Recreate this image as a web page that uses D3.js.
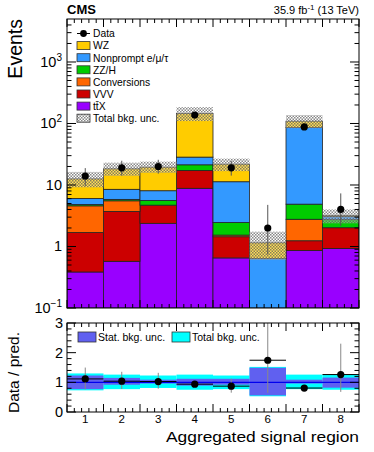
<!DOCTYPE html>
<html>
<head>
<meta charset="utf-8">
<script src="https://d3js.org/d3.v7.min.js"></script>
<style>
  body { margin: 0; background: #fff; }
  text { font-family: "Liberation Sans", Arial, sans-serif; }
</style>
</head>
<body>
<div id="chart"></div>
<script>
// bins and stacked backgrounds (bottom -> top)
const bins = ["1", "2", "3", "4", "5", "6", "7", "8"];
const ttX = [0.385, 0.574, 2.38, 8.83, 0.652, 0, 0.86, 0.93];
const vvv = [1.30, 3.14, 2.32, 8.37, 0.79, 0, 0.38, 1.09];
const conversions = [2.90, 1.82, 0, 0, 0.09, 0, 1.53, 0];
const zzh = [0.22, 0.30, 0.90, 4.1, 0.92, 0, 2.11, 0.75];
const nonprompt = [1.25, 2.67, 2.47, 7.1, 8.85, 0.636, 81.1, 0.30];
const wz = [6.5, 9.8, 11.4, 117.6, 10.5, 0.51, 23, 0.10];

const data = [14, 19, 20, 137, 19, 2, 88, 4];
const dataLo = [9.6, 14.2, 15.3, 126, 14.2, 0.74, 79, 2.15];
const dataHi = [18.8, 24.8, 25.7, 149, 24.5, 4.75, 98, 7.3];

// relative uncertainties
const statLo = [0.77, 0.92, 0.96, 0.89, 0.92, 0.56, 0.96, 0.82];
const statHi = [1.23, 1.15, 1.09, 1.12, 1.12, 1.49, 1.09, 1.16];
const totLo = [0.73, 0.77, 0.81, 0.75, 0.77, 0.53, 0.77, 0.75];
const totHi = [1.30, 1.26, 1.23, 1.26, 1.23, 1.52, 1.26, 1.26];

const mainTicks = [0.1, 1, 10, 100, 1000];
const ratioTicks = [0, 1, 2, 3];

const components = [
    { name: "tt\u0304X", values: ttX, color: "#9900ff" },
    { name: "VVV", values: vvv, color: "#cc0000" },
    { name: "Conversions", values: conversions, color: "#ff6600" },
    { name: "ZZ/H", values: zzh, color: "#00cc00" },
    { name: "Nonprompt e/\u03bc/\u03c4", values: nonprompt, color: "#3399ff" },
    { name: "WZ", values: wz, color: "#ffcc00" }
];

const W = 374, H = 452;
const left = 67, right = 359;
const mainTop = 19, mainBot = 308;
const ratTop = 323, ratBot = 412;

const svg = d3.select("#chart").append("svg")
    .attr("width", W).attr("height", H);

const defs = svg.append("defs");
const pat = defs.append("pattern").attr("id", "hatch")
    .attr("width", 3).attr("height", 3).attr("patternUnits", "userSpaceOnUse");
pat.append("rect").attr("width", 3).attr("height", 3).attr("fill", "#ffffff").attr("opacity", 0.35);
pat.append("rect").attr("x", 0).attr("y", 0).attr("width", 1.5).attr("height", 1.5).attr("fill", "#555").attr("opacity", 0.7);
pat.append("rect").attr("x", 1.5).attr("y", 1.5).attr("width", 1.5).attr("height", 1.5).attr("fill", "#555").attr("opacity", 0.7);

const clipMain = defs.append("clipPath").attr("id", "clipMain");
clipMain.append("rect").attr("x", left).attr("y", mainTop).attr("width", right - left).attr("height", mainBot - mainTop);
const clipRat = defs.append("clipPath").attr("id", "clipRat");
clipRat.append("rect").attr("x", left).attr("y", ratTop).attr("width", right - left).attr("height", ratBot - ratTop);

const x = d3.scaleLinear().domain([0, bins.length]).range([left, right]);
const y = d3.scaleLog().domain([0.1, 5000]).range([mainBot, mainTop]);
const yr = d3.scaleLinear().domain([0, 3]).range([ratBot, ratTop]);
const ySafe = v => y(Math.max(v, 0.1));

// cumulative stack
const totals = bins.map(() => 0);
const stacked = components.map(c => {
    const rows = c.values.map((v, i) => {
        const y0 = totals[i];
        totals[i] += v;
        return { i, y0, y1: totals[i], v };
    });
    return { c, rows };
});

const gMain = svg.append("g").attr("clip-path", "url(#clipMain)");
stacked.forEach(s => {
    gMain.selectAll(null).data(s.rows.filter(r => r.v > 0)).enter().append("rect")
        .attr("x", r => x(r.i))
        .attr("width", r => x(r.i + 1) - x(r.i))
        .attr("y", r => ySafe(r.y1))
        .attr("height", r => ySafe(r.y0) - ySafe(r.y1))
        .attr("fill", s.c.color)
        .attr("stroke", "#222").attr("stroke-width", 0.8);
});

// total bkg uncertainty band
gMain.selectAll(null).data(bins).enter().append("rect")
    .attr("x", (d, i) => x(i))
    .attr("width", (d, i) => x(i + 1) - x(i))
    .attr("y", (d, i) => y(totals[i] * totHi[i]))
    .attr("height", (d, i) => y(totals[i] * totLo[i]) - y(totals[i] * totHi[i]))
    .attr("fill", "url(#hatch)");

// data
gMain.selectAll(null).data(data).enter().append("line")
    .attr("x1", (d, i) => x(i + 0.5)).attr("x2", (d, i) => x(i + 0.5))
    .attr("y1", (d, i) => ySafe(dataLo[i])).attr("y2", (d, i) => ySafe(dataHi[i]))
    .attr("stroke", "#555").attr("stroke-width", 1);
gMain.selectAll(null).data(data).enter().append("circle")
    .attr("cx", (d, i) => x(i + 0.5)).attr("cy", d => y(d))
    .attr("r", 3.6).attr("fill", "#000");

// ratio panel
const gRat = svg.append("g").attr("clip-path", "url(#clipRat)");
gRat.selectAll(null).data(bins).enter().append("rect")
    .attr("x", (d, i) => x(i)).attr("width", (d, i) => x(i + 1) - x(i))
    .attr("y", (d, i) => yr(totHi[i])).attr("height", (d, i) => yr(totLo[i]) - yr(totHi[i]))
    .attr("fill", "#00ffff");
gRat.selectAll(null).data(bins).enter().append("rect")
    .attr("x", (d, i) => x(i)).attr("width", (d, i) => x(i + 1) - x(i))
    .attr("y", (d, i) => yr(statHi[i])).attr("height", (d, i) => yr(statLo[i]) - yr(statHi[i]))
    .attr("fill", "#6060f0");
gRat.append("line")
    .attr("x1", left).attr("x2", right).attr("y1", yr(1)).attr("y2", yr(1))
    .attr("stroke", "#0000ee").attr("stroke-width", 1.2);
gRat.selectAll(null).data(data).enter().append("line")
    .attr("x1", (d, i) => x(i + 0.5)).attr("x2", (d, i) => x(i + 0.5))
    .attr("y1", (d, i) => yr(dataLo[i] / totals[i])).attr("y2", (d, i) => yr(dataHi[i] / totals[i]))
    .attr("stroke", "#888").attr("stroke-width", 1);
gRat.selectAll(null).data(data).enter().append("line")
    .attr("x1", (d, i) => x(i)).attr("x2", (d, i) => x(i + 1))
    .attr("y1", (d, i) => yr(d / totals[i])).attr("y2", (d, i) => yr(d / totals[i]))
    .attr("stroke", "#000").attr("stroke-width", 1);
gRat.selectAll(null).data(data).enter().append("circle")
    .attr("cx", (d, i) => x(i + 0.5)).attr("cy", (d, i) => yr(d / totals[i]))
    .attr("r", 3.6).attr("fill", "#000");

// frames
[[mainTop, mainBot], [ratTop, ratBot]].forEach(([t, b]) => {
    svg.append("rect").attr("x", left).attr("y", t)
        .attr("width", right - left).attr("height", b - t)
        .attr("fill", "none").attr("stroke", "#000").attr("stroke-width", 1);
});

// axes: x ticks (major at bin edges, minor in between), inward
const xMajor = d3.range(0, bins.length + 1);
const xMinor = d3.range(0, bins.length * 5 + 1).map(v => v / 5).filter(v => v % 1 !== 0);
function xTicks(yPos, dir) {
    const g = svg.append("g").attr("stroke", "#000").attr("stroke-width", 1);
    xMajor.forEach(v => g.append("line").attr("x1", x(v)).attr("x2", x(v)).attr("y1", yPos).attr("y2", yPos + dir * 8));
    xMinor.forEach(v => g.append("line").attr("x1", x(v)).attr("x2", x(v)).attr("y1", yPos).attr("y2", yPos + dir * 4));
}
xTicks(mainBot, -1); xTicks(mainTop, 1);
xTicks(ratBot, -1); xTicks(ratTop, 1);

// main y ticks
const logMinor = [];
mainTicks.forEach(d => { for (let k = 2; k <= 9; k++) { const v = d * k; if (v < 5000) logMinor.push(v); } });
[[left, 1], [right, -1]].forEach(([xp, dir]) => {
    const g = svg.append("g").attr("stroke", "#000").attr("stroke-width", 1);
    mainTicks.forEach(v => g.append("line").attr("x1", xp).attr("x2", xp + dir * 9).attr("y1", y(v)).attr("y2", y(v)));
    logMinor.forEach(v => g.append("line").attr("x1", xp).attr("x2", xp + dir * 4.5).attr("y1", y(v)).attr("y2", y(v)));
});
const expLabel = { 0.1: "\u22121", 100: "2", 1000: "3" };
mainTicks.forEach(v => {
    const t = svg.append("text").attr("x", left - 5).attr("y", y(v) + 5)
        .attr("text-anchor", "end").attr("font-size", 14.5);
    if (expLabel[v] !== undefined) {
        t.append("tspan").text("10");
        t.append("tspan").attr("dy", -6).attr("font-size", 10).text(expLabel[v]);
    } else {
        t.text(v);
    }
});

// ratio y ticks
const ratMinor = d3.range(0, 15).map(v => v / 5).filter(v => v % 1 !== 0);
[[left, 1], [right, -1]].forEach(([xp, dir]) => {
    const g = svg.append("g").attr("stroke", "#000").attr("stroke-width", 1);
    ratioTicks.forEach(v => g.append("line").attr("x1", xp).attr("x2", xp + dir * 9).attr("y1", yr(v)).attr("y2", yr(v)));
    ratMinor.forEach(v => g.append("line").attr("x1", xp).attr("x2", xp + dir * 4.5).attr("y1", yr(v)).attr("y2", yr(v)));
});
ratioTicks.forEach(v => {
    svg.append("text").attr("x", left - 4).attr("y", yr(v) + 5)
        .attr("text-anchor", "end").attr("font-size", 14.5).text(v);
});
bins.forEach((b, i) => {
    svg.append("text").attr("x", x(i + 0.5)).attr("y", 422.5)
        .attr("text-anchor", "middle").attr("font-size", 11.5).text(b);
});

// titles
svg.append("text").attr("transform", `translate(22,${mainTop}) rotate(-90)`)
    .attr("text-anchor", "end").attr("font-size", 19.5).text("Events");
svg.append("text").attr("transform", `translate(19,${ratBot + 1}) rotate(-90)`)
    .attr("text-anchor", "start").attr("font-size", 15.5).text("Data / pred.");
svg.append("text").attr("x", right).attr("y", 441.5)
    .attr("text-anchor", "end").attr("font-size", 15.5)
    .attr("textLength", 193).attr("lengthAdjust", "spacingAndGlyphs")
    .text("Aggregated signal region");
svg.append("text").attr("x", left).attr("y", 14)
    .attr("font-size", 13).attr("font-weight", "bold").text("CMS");
const lumi = svg.append("text").attr("x", right).attr("y", 14)
    .attr("text-anchor", "end").attr("font-size", 11);
lumi.append("tspan").text("35.9 fb");
lumi.append("tspan").attr("dy", -4).attr("font-size", 8).text("-1");
lumi.append("tspan").attr("dy", 4).text(" (13 TeV)");

// legend main
const legX = 77, legY0 = 33.5, legDy = 12.1;
const legItems = [{ name: "Data", type: "data" }]
    .concat(components.slice().reverse().map(c => ({ name: c.name, type: "box", color: c.color })))
    .concat([{ name: "Total bkg. unc.", type: "hatch" }]);
legItems.forEach((it, k) => {
    const cy = legY0 + k * legDy;
    if (it.type === "data") {
        svg.append("line").attr("x1", legX).attr("x2", legX + 13).attr("y1", cy).attr("y2", cy)
            .attr("stroke", "#000").attr("stroke-width", 1);
        svg.append("circle").attr("cx", legX + 6.5).attr("cy", cy).attr("r", 3.4).attr("fill", "#000");
    } else {
        svg.append("rect").attr("x", legX).attr("y", cy - 4).attr("width", 13).attr("height", 8)
            .attr("fill", it.type === "hatch" ? "url(#hatch)" : it.color)
            .attr("stroke", "#333").attr("stroke-width", 0.8);
    }
    svg.append("text").attr("x", legX + 16).attr("y", cy + 3.8)
        .attr("font-size", 10.3).text(it.name);
});

// ratio legend
[{ name: "Stat. bkg. unc.", color: "#6060f0", x: 78 }, { name: "Total bkg. unc.", color: "#00ffff", x: 172 }].forEach(it => {
    svg.append("rect").attr("x", it.x).attr("y", 332).attr("width", 18).attr("height", 10)
        .attr("fill", it.color).attr("stroke", "#333").attr("stroke-width", 0.8);
    svg.append("text").attr("x", it.x + 20).attr("y", 341).attr("font-size", 10.5).text(it.name);
});
</script>
</body>
</html>
